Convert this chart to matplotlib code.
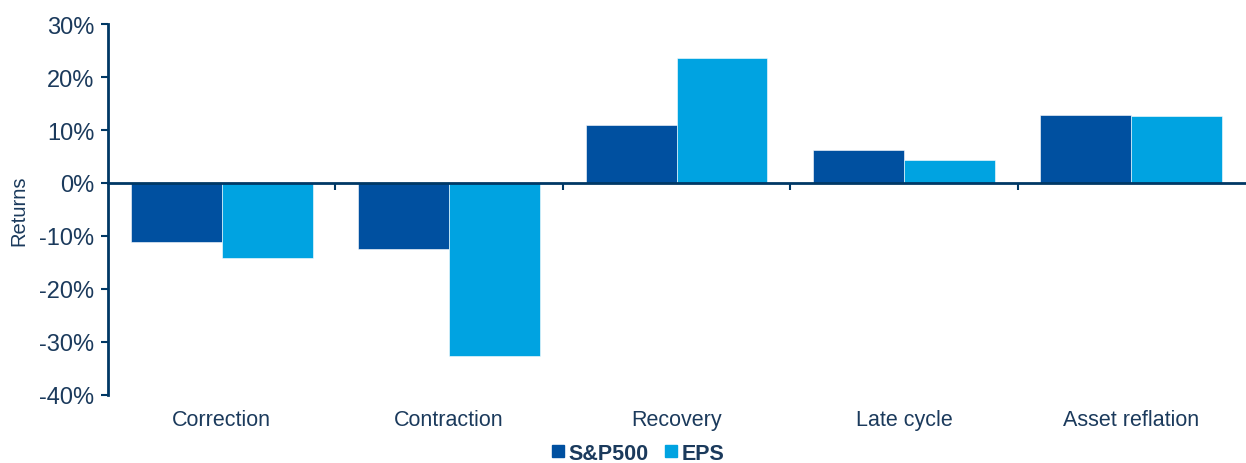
import numpy as np
import matplotlib.pyplot as plt
from matplotlib.ticker import FixedLocator, FuncFormatter
from matplotlib.lines import Line2D

plt.rcParams['font.family'] = ['Liberation Sans', 'DejaVu Sans']

categories = ['Correction', 'Contraction', 'Recovery', 'Late cycle', 'Asset reflation']
sp500 = [-11.2, -12.5, 11.0, 6.3, 12.8]
eps = [-14.2, -32.7, 23.5, 4.4, 12.7]

c_sp = '#0050a0'
c_eps = '#00a3e1'
navy = '#003865'
txt = '#1b3a5c'

fig = plt.figure(figsize=(12.46, 4.64), dpi=100)
ax = fig.add_axes([0.0867, 0.1466, 0.9125, 0.7995])

x = np.arange(len(categories))
w = 0.4
ax.bar(x - w / 2, sp500, w, color=c_sp, edgecolor='white', linewidth=0.4)
ax.bar(x + w / 2, eps, w, color=c_eps, edgecolor='white', linewidth=0.4)

ax.set_xlim(-0.5, len(categories) - 0.5)
ax.set_ylim(-40, 30)
ax.set_yticks(np.arange(-40, 31, 10))
ax.yaxis.set_major_formatter(FuncFormatter(lambda v, p: f'{v:.0f}%'))
ax.tick_params(axis='y', colors=navy, labelcolor=txt, labelsize=17,
               length=5, width=1.5, direction='out', pad=5)

for s in ['top', 'right']:
    ax.spines[s].set_visible(False)
ax.spines['left'].set_color(navy)
ax.spines['left'].set_linewidth(2)
ax.spines['bottom'].set_position(('data', 0))
ax.spines['bottom'].set_color(navy)
ax.spines['bottom'].set_linewidth(2)

ax.xaxis.set_major_locator(FixedLocator(np.arange(0.5, len(categories) - 0.5, 1)))
ax.set_xticklabels([])
ax.tick_params(axis='x', colors=navy, length=5, width=1.5, direction='out')

for i, c in enumerate(categories):
    ax.text(i, -0.066, c, transform=ax.get_xaxis_transform(), ha='center',
            va='center', fontsize=15.5, color=txt)

ax.set_ylabel('Returns', fontsize=14.5, color=txt, labelpad=8)

handles = [Line2D([], [], marker='s', ls='', color=c_sp, markersize=9),
           Line2D([], [], marker='s', ls='', color=c_eps, markersize=9)]
leg = fig.legend(handles, ['S&P500', 'EPS'], loc='center', bbox_to_anchor=(0.512, 0.021),
                 ncol=2, frameon=False, handlelength=0.6, handletextpad=0.2, borderpad=0,
                 columnspacing=0.75, prop={'size': 15.5, 'weight': 'bold'})
for t in leg.get_texts():
    t.set_color(txt)

fig.savefig('out.png', dpi=100)
